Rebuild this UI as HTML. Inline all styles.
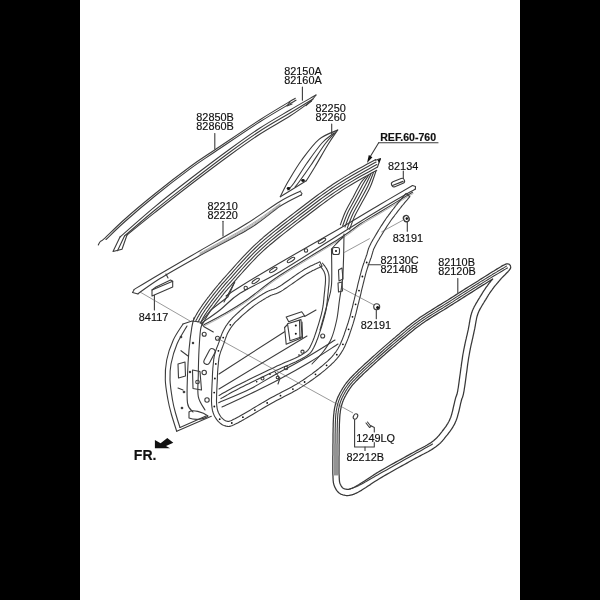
<!DOCTYPE html>
<html><head><meta charset="utf-8">
<style>
html,body{margin:0;padding:0;background:#000;}
body{width:600px;height:600px;overflow:hidden;position:relative;}
svg{position:absolute;left:0;top:0;will-change:transform;}
text{font-family:"Liberation Sans",sans-serif;font-size:10.5px;fill:#111;stroke:#111;stroke-width:0.15px;}
.b{font-weight:bold;}
.ln{fill:none;stroke:#3c3c3c;stroke-width:1.1;stroke-linejoin:round;stroke-linecap:round;}
.lw{fill:#fff;stroke:#3c3c3c;stroke-width:1.1;stroke-linejoin:round;stroke-linecap:round;}
.ld{fill:none;stroke:#555;stroke-width:0.6;}
.fk{fill:#111;stroke:none;}
</style></head>
<body>
<svg width="600" height="600" viewBox="0 0 600 600">
<rect x="0" y="0" width="600" height="600" fill="#000"/>
<rect x="80" y="0" width="440" height="600" fill="#fff"/>
<path class="ln" d="M302.4,87.0 L302.4,100.3" />
<path class="ln" d="M214.8,133.5 L214.8,149.0" />
<path class="ln" d="M331.7,124.0 L331.7,134.0" />
<path class="ln" d="M403.3,171.0 L403.3,180.0" />
<path class="ln" d="M223.0,221.3 L223.0,236.0" />
<path class="ln" d="M407.3,221.0 L407.3,231.3" />
<path class="ln" d="M457.8,278.5 L457.8,292.5" />
<path class="ln" d="M154.4,292.7 L154.4,310.0" />
<path class="ln" d="M376.3,310.0 L376.3,318.7" />
<path class="ln" d="M368.0,264.7 L380.7,264.7" />
<path class="ln" d="M378.7,142.8 L438.0,142.8" />
<path class="ln" d="M378.7,142.8 L370.0,157.0" />
<path class="fk" d="M367,163 L368.8,155 L372.4,157.2 Z"/>
<path class="ln" d="M354.6,419.5 L354.6,447.0 L374.3,447.0 L374.3,442.5" />
<path class="ln" d="M374.3,432.0 L374.3,427.5 L370.5,425.5" />
<path class="ln" d="M365.0,447.0 L365.0,450.5" />
<path class="fk" d="M154.9,440 L154.9,448.3 L170,448.3 L166,446 L173.3,442.7 L167.3,438 L160.6,443.3 Z"/>
<path class="ln" d="M506.6,263.9 L505.8,264.1 L504.8,264.6 L504.6,264.7 L503.2,265.4 L503.1,265.4 L501.3,266.4 L501.3,266.5 L499.2,267.7 L499.2,267.7 L496.8,269.1 L496.8,269.1 L494.3,270.7 L494.3,270.7 L491.6,272.3 L491.6,272.3 L488.9,274.0 L488.9,274.1 L486.2,275.8 L483.4,277.5 L480.8,279.1 L478.4,280.7 L476.0,282.2 L476.0,282.2 L473.5,283.7 L473.5,283.7 L471.1,285.2 L471.1,285.2 L468.6,286.8 L468.6,286.8 L466.1,288.4 L466.0,288.4 L463.5,290.0 L461.0,291.6 L458.4,293.3 L455.9,294.9 L453.4,296.5 L450.8,298.1 L448.3,299.7 L445.8,301.2 L443.3,302.8 L440.8,304.4 L438.2,305.9 L435.6,307.5 L435.6,307.5 L433.1,309.1 L433.1,309.1 L430.5,310.7 L430.5,310.7 L428.0,312.3 L428.0,312.3 L425.5,313.9 L425.4,313.9 L423.0,315.5 L423.0,315.5 L420.6,317.1 L420.5,317.1 L418.2,318.8 L418.2,318.8 L415.9,320.4 L415.9,320.4 L413.7,322.1 L413.7,322.1 L411.5,323.7 L411.5,323.8 L409.4,325.4 L409.4,325.4 L407.3,327.1 L407.3,327.1 L405.3,328.8 L405.3,328.8 L403.3,330.4 L403.2,330.5 L401.2,332.1 L401.2,332.1 L399.2,333.9 L399.2,333.9 L397.2,335.6 L395.1,337.4 L393.0,339.1 L393.0,339.1 L390.8,341.0 L390.8,341.0 L388.6,342.9 L388.6,342.9 L386.3,344.9 L386.3,344.9 L384.0,346.9 L384.0,346.9 L381.7,348.9 L381.7,348.9 L379.4,350.9 L379.4,350.9 L377.2,352.9 L377.2,352.9 L375.0,354.9 L375.0,354.9 L372.8,356.8 L372.8,356.8 L370.7,358.7 L370.7,358.7 L368.8,360.5 L368.8,360.5 L366.9,362.2 L366.9,362.2 L365.1,363.8 L365.1,363.8 L363.4,365.4 L363.4,365.4 L361.8,366.9 L361.8,366.9 L360.2,368.4 L360.2,368.4 L358.7,369.8 L358.7,369.8 L357.3,371.2 L357.3,371.2 L355.9,372.5 L355.9,372.6 L354.5,373.9 L354.5,373.9 L353.2,375.2 L353.2,375.2 L352.0,376.4 L352.0,376.5 L350.8,377.7 L350.8,377.7 L349.7,378.9 L349.7,379.0 L348.7,380.1 L348.6,380.2 L347.7,381.3 L347.6,381.3 L346.8,382.4 L346.7,382.4 L346.0,383.4 L345.9,383.5 L345.2,384.5 L345.1,384.5 L344.5,385.5 L344.4,385.6 L343.8,386.5 L343.8,386.6 L343.2,387.5 L343.1,387.5 L342.5,388.5 L342.5,388.5 L342.0,389.5 L341.9,389.5 L341.4,390.5 L341.4,390.5 L340.8,391.5 L340.8,391.5 L340.2,392.5 L340.2,392.5 L339.7,393.5 L339.7,393.5 L339.2,394.5 L339.2,394.6 L338.7,395.5 L338.7,395.6 L338.2,396.5 L338.2,396.6 L337.8,397.6 L337.7,397.6 L337.3,398.6 L337.3,398.7 L336.9,399.7 L336.9,399.7 L336.5,400.8 L336.5,400.8 L336.2,401.9 L336.1,401.9 L335.8,403.0 L335.8,403.1 L335.5,404.2 L335.5,404.2 L335.2,405.3 L335.2,405.4 L335.0,406.4 L334.9,406.5 L334.7,407.5 L334.7,407.6 L334.5,408.6 L334.5,408.7 L334.3,409.8 L334.3,409.8 L334.2,410.9 L334.1,411.0 L334.0,412.2 L334.0,412.2 L333.9,413.5 L333.9,413.5 L333.7,414.8 L333.7,414.9 L333.6,416.4 L333.6,416.4 L333.5,418.0 L333.5,418.0 L333.4,419.8 L333.4,419.9 L333.3,421.8 L333.3,421.9 L333.2,424.1 L333.2,424.1 L333.2,426.5 L333.2,426.5 L333.1,429.0 L333.1,429.0 L333.1,431.6 L333.1,431.6 L333.0,434.3 L333.0,434.3 L333.0,437.1 L333.0,437.1 L333.0,439.8 L333.0,439.8 L333.0,442.5 L332.9,445.1 L332.9,447.6 L332.9,450.0 L332.9,452.3 L332.9,454.6 L332.8,456.9 L332.8,459.2 L332.8,459.2 L332.8,461.5 L332.8,461.5 L332.8,463.7 L332.8,463.7 L332.8,465.9 L332.8,465.9 L332.8,467.9 L332.8,467.9 L332.8,469.9 L332.8,469.9 L332.8,471.8 L332.8,471.8 L332.8,473.5 L332.8,473.5 L332.9,475.1 L332.9,475.1 L333.0,476.5 L333.0,477.8 L333.0,477.8 L333.1,478.9 L333.1,478.9 L333.1,479.9 L333.1,480.0 L333.2,480.9 L333.2,480.9 L333.3,481.7 L333.3,481.9 L333.4,482.6 L333.4,482.7 L333.6,483.4 L333.6,483.6 L333.8,484.2 L333.8,484.4 L334.0,485.1 L334.1,485.2 L334.3,485.9 L334.4,486.0 L334.6,486.7 L334.7,486.8 L335.0,487.5 L335.1,487.6 L335.4,488.3 L335.5,488.4 L335.9,489.1 L335.9,489.2 L336.3,489.9 L336.4,490.0 L336.9,490.6 L337.0,490.8 L337.5,491.4 L337.6,491.5 L338.1,492.1 L338.3,492.2 L338.8,492.7 L339.1,492.9 L339.6,493.3 L339.9,493.5 L340.5,493.9 L340.8,494.1 L341.5,494.4 L341.8,494.5 L342.5,494.7 L342.7,494.8 L343.4,495.0 L343.5,495.0 L344.2,495.2 L344.4,495.2 L345.1,495.3 L345.3,495.4 L346.0,495.5 L346.3,495.5 L347.1,495.5 L347.3,495.5 L348.1,495.5 L348.4,495.5 L349.3,495.4 L349.5,495.4 L350.5,495.2 L350.7,495.1 L351.8,494.8 L352.0,494.8 L353.2,494.4 L353.4,494.3 L354.7,493.8 L354.8,493.8 L356.3,493.1 L356.4,493.1 L358.0,492.3 L358.1,492.2 L359.8,491.2 L359.9,491.2 L361.8,490.1 L361.8,490.0 L363.8,488.8 L363.8,488.8 L365.9,487.5 L365.9,487.5 L368.0,486.1 L368.1,486.0 L370.3,484.6 L372.5,483.1 L374.8,481.6 L377.0,480.2 L379.3,478.7 L381.6,477.4 L383.9,476.0 L386.3,474.6 L388.8,473.2 L391.4,471.7 L394.0,470.2 L396.6,468.8 L399.3,467.3 L401.8,465.9 L404.4,464.5 L406.9,463.1 L409.2,461.8 L409.2,461.8 L411.5,460.5 L413.7,459.3 L415.8,458.1 L418.0,457.0 L420.1,455.9 L422.1,454.8 L422.1,454.8 L424.1,453.8 L424.1,453.8 L426.1,452.7 L426.1,452.7 L428.0,451.7 L428.0,451.7 L429.8,450.7 L429.8,450.6 L431.5,449.7 L431.6,449.6 L433.2,448.6 L433.3,448.6 L434.7,447.6 L434.8,447.5 L436.2,446.5 L436.2,446.5 L437.4,445.6 L437.5,445.5 L438.6,444.6 L438.7,444.5 L439.7,443.6 L439.8,443.5 L440.7,442.7 L440.8,442.6 L441.6,441.7 L441.7,441.7 L442.5,440.8 L442.5,440.7 L443.3,439.8 L443.3,439.8 L444.1,438.9 L444.1,438.9 L444.8,437.9 L444.8,437.9 L445.6,436.9 L446.4,435.9 L447.3,434.9 L447.3,434.9 L448.1,433.8 L448.1,433.8 L448.9,432.7 L449.0,432.7 L449.8,431.6 L449.8,431.6 L450.6,430.5 L450.6,430.4 L451.4,429.3 L451.4,429.3 L452.2,428.1 L452.3,428.0 L453.0,426.9 L453.0,426.8 L453.7,425.5 L453.8,425.4 L454.5,424.2 L454.5,424.1 L455.2,422.7 L455.2,422.6 L455.8,421.3 L455.9,421.1 L456.5,419.6 L456.5,419.5 L457.1,417.9 L457.1,417.8 L457.6,416.1 L457.6,416.0 L458.1,414.2 L458.1,414.2 L458.6,412.4 L458.6,412.3 L459.1,410.5 L459.1,410.4 L459.5,408.6 L459.5,408.6 L459.9,406.8 L459.9,406.8 L460.3,405.1 L460.6,403.5 L461.0,402.1 L461.3,400.8 L461.6,399.8 L461.8,399.0 L462.0,398.4 L462.2,398.0 L462.4,397.5 L462.4,397.5 L462.6,397.1 L462.6,397.0 L462.8,396.4 L462.8,396.3 L463.0,395.7 L463.0,395.6 L463.2,394.8 L463.3,394.7 L463.5,393.7 L463.5,393.6 L463.7,392.3 L463.8,392.2 L464.1,390.5 L464.1,390.5 L464.4,388.4 L464.4,388.4 L464.8,386.0 L464.8,385.9 L465.2,383.2 L465.2,383.2 L465.6,380.2 L465.6,380.2 L466.0,377.1 L466.4,373.8 L466.9,370.6 L467.3,367.3 L467.7,364.1 L468.2,361.0 L468.6,358.1 L469.1,355.5 L469.5,353.1 L469.9,350.8 L470.4,348.5 L470.8,346.3 L471.3,344.1 L471.8,342.1 L472.2,340.1 L472.7,338.1 L473.1,336.2 L473.1,336.2 L473.5,334.3 L473.5,334.3 L473.9,332.5 L473.9,332.4 L474.3,330.7 L474.3,330.6 L474.7,328.9 L474.7,328.9 L475.0,327.2 L475.0,327.2 L475.3,325.6 L475.3,325.6 L475.5,324.1 L475.5,324.1 L475.8,322.6 L476.0,321.3 L476.3,319.9 L476.5,318.6 L476.8,317.4 L477.1,316.2 L477.5,315.0 L477.9,313.8 L478.4,312.6 L478.9,311.3 L479.5,310.1 L480.1,308.9 L480.8,307.7 L481.5,306.5 L482.2,305.3 L482.9,304.1 L483.6,303.0 L484.3,301.8 L484.3,301.8 L485.0,300.7 L485.0,300.7 L485.7,299.6 L485.7,299.6 L486.3,298.6 L486.9,297.6 L487.4,296.7 L488.0,295.8 L488.5,294.9 L489.1,294.0 L489.6,293.2 L490.2,292.4 L490.7,291.6 L491.3,290.8 L491.9,290.0 L492.5,289.1 L493.1,288.3 L493.7,287.5 L494.3,286.7 L495.0,285.9 L495.6,285.2 L496.3,284.4 L496.9,283.6 L497.6,282.8 L498.3,282.0 L499.0,281.2 L499.0,281.2 L499.7,280.3 L499.7,280.3 L500.3,279.5 L501.1,278.7 L502.1,277.6 L503.2,276.5 L504.5,275.3 L505.7,274.0 L505.7,274.0 L506.9,272.8 L506.9,272.8 L508.0,271.7 L508.0,271.6 L508.9,270.6 L509.0,270.5 L509.7,269.7 L509.9,269.3 L510.3,268.7 L510.6,268.0 L510.7,267.3 L510.6,266.5 L510.5,266.2 L510.3,265.5 L509.8,264.9 L509.3,264.4 L508.6,264.0 L507.9,263.9 L507.1,263.9 L506.6,263.9 Z" style="stroke-width:1.25;stroke:#383838"/>
<path class="ln" d="M492.7,279.0 L492.2,279.6 L492.2,279.6 L491.5,280.4 L491.5,280.4 L490.8,281.2 L490.8,281.2 L490.2,282.0 L490.1,282.1 L489.5,282.9 L489.5,282.9 L488.8,283.7 L488.8,283.7 L488.2,284.6 L488.1,284.6 L487.5,285.5 L487.5,285.5 L486.9,286.3 L486.9,286.3 L486.3,287.2 L486.2,287.2 L485.7,288.0 L485.6,288.1 L485.1,288.9 L485.1,288.9 L484.5,289.8 L484.5,289.8 L483.9,290.6 L483.9,290.7 L483.3,291.5 L483.3,291.5 L482.8,292.4 L482.7,292.5 L482.2,293.4 L482.2,293.4 L481.6,294.4 L481.6,294.4 L481.0,295.4 L481.0,295.4 L480.3,296.4 L479.7,297.5 L479.0,298.6 L478.3,299.7 L478.3,299.7 L477.6,300.9 L477.6,300.9 L476.9,302.1 L476.9,302.1 L476.1,303.4 L476.1,303.4 L475.4,304.7 L475.4,304.7 L474.7,306.0 L474.6,306.0 L474.0,307.3 L473.9,307.4 L473.3,308.7 L473.3,308.8 L472.7,310.1 L472.6,310.2 L472.1,311.6 L472.1,311.7 L471.6,313.0 L471.6,313.1 L471.2,314.5 L471.2,314.6 L470.8,315.9 L470.8,316.0 L470.5,317.3 L470.5,317.4 L470.2,318.7 L470.2,318.8 L469.9,320.1 L469.9,320.2 L469.7,321.6 L469.7,321.6 L469.4,323.0 L469.2,324.5 L468.9,326.1 L468.6,327.7 L468.3,329.4 L467.9,331.1 L467.5,332.9 L467.1,334.8 L466.6,336.7 L466.2,338.7 L466.2,338.7 L465.7,340.7 L465.7,340.7 L465.2,342.8 L465.2,342.8 L464.8,345.0 L464.8,345.0 L464.3,347.2 L464.3,347.3 L463.8,349.6 L463.8,349.6 L463.4,352.0 L463.4,352.0 L462.9,354.5 L462.9,354.5 L462.5,357.1 L462.5,357.2 L462.1,360.1 L462.1,360.1 L461.6,363.2 L461.6,363.2 L461.2,366.4 L461.2,366.4 L460.7,369.7 L460.7,369.7 L460.3,373.0 L459.8,376.3 L459.4,379.4 L459.0,382.3 L458.6,385.1 L458.3,387.5 L457.9,389.5 L457.7,391.1 L457.4,392.4 L457.2,393.3 L457.0,394.0 L456.9,394.5 L456.8,394.9 L456.6,395.3 L456.4,395.7 L456.4,395.7 L456.2,396.3 L456.2,396.4 L455.9,397.0 L455.9,397.1 L455.6,398.0 L455.6,398.1 L455.3,399.2 L455.3,399.2 L455.0,400.6 L454.9,400.6 L454.6,402.1 L454.6,402.1 L454.2,403.8 L454.2,403.8 L453.8,405.5 L453.4,407.2 L453.0,409.0 L452.6,410.8 L452.1,412.6 L451.7,414.3 L451.2,415.9 L450.7,417.5 L450.1,418.8 L449.6,420.1 L449.0,421.3 L448.3,422.5 L447.7,423.6 L447.0,424.7 L446.3,425.8 L445.6,426.9 L444.8,427.9 L444.0,429.0 L443.2,430.0 L442.4,431.0 L441.6,432.1 L441.6,432.1 L440.8,433.1 L440.8,433.1 L440.0,434.1 L439.3,435.0 L438.6,435.8 L437.8,436.7 L437.1,437.5 L436.3,438.2 L435.5,439.0 L434.6,439.8 L433.6,440.7 L432.5,441.5 L431.2,442.5 L429.8,443.4 L428.3,444.3 L426.7,445.3 L425.0,446.3 L423.1,447.3 L421.2,448.3 L419.2,449.3 L417.2,450.4 L417.2,450.4 L415.1,451.5 L415.1,451.5 L412.9,452.7 L412.9,452.7 L410.7,453.9 L410.7,453.9 L408.5,455.1 L408.5,455.1 L406.2,456.4 L403.8,457.7 L401.4,459.1 L398.8,460.5 L396.2,461.9 L396.2,461.9 L393.6,463.4 L393.6,463.4 L391.0,464.8 L391.0,464.8 L388.4,466.3 L388.4,466.3 L385.8,467.8 L385.8,467.8 L383.3,469.2 L383.2,469.2 L380.8,470.6 L380.8,470.6 L378.4,472.0 L378.4,472.0 L376.1,473.4 L376.1,473.5 L373.7,474.9 L373.7,474.9 L371.4,476.4 L371.4,476.4 L369.1,477.9 L369.1,477.9 L366.8,479.4 L364.6,480.9 L362.5,482.3 L360.5,483.6 L358.6,484.8 L356.8,485.8 L355.1,486.8 L353.7,487.5 L352.4,488.1 L351.2,488.5 L350.2,488.9 L349.3,489.1 L348.5,489.3 L347.9,489.3 L347.3,489.3 L346.7,489.3 L346.2,489.2 L345.6,489.1 L345.0,489.0 L344.4,488.8 L344.0,488.7 L343.6,488.5 L343.3,488.3 L342.9,488.0 L342.6,487.7 L342.2,487.4 L341.9,486.9 L341.5,486.5 L341.2,486.0 L340.9,485.4 L340.6,484.8 L340.3,484.2 L340.1,483.7 L339.9,483.2 L339.8,482.7 L339.6,482.2 L339.5,481.6 L339.5,481.0 L339.4,480.3 L339.3,479.5 L339.3,478.6 L339.2,477.5 L339.2,476.3 L339.1,474.9 L339.0,473.4 L339.0,471.7 L339.0,469.9 L339.0,467.9 L339.0,465.9 L339.0,463.7 L339.0,461.5 L339.0,459.3 L339.0,457.0 L339.1,454.7 L339.1,452.3 L339.1,450.0 L339.1,450.0 L339.1,447.7 L339.1,447.6 L339.1,445.1 L339.2,442.5 L339.2,439.8 L339.2,437.1 L339.2,434.4 L339.3,431.7 L339.3,429.1 L339.4,426.6 L339.4,424.3 L339.5,422.1 L339.6,420.2 L339.7,418.4 L339.8,416.8 L339.9,415.4 L340.0,414.1 L340.2,412.9 L340.3,411.8 L340.4,410.8 L340.6,409.8 L340.8,408.8 L341.0,407.8 L341.2,406.8 L341.5,405.8 L341.8,404.7 L342.1,403.7 L342.4,402.8 L342.7,401.8 L343.1,400.9 L343.4,400.0 L343.8,399.1 L344.3,398.2 L344.7,397.3 L345.2,396.4 L345.7,395.5 L346.2,394.5 L346.7,393.6 L347.3,392.6 L347.8,391.7 L348.4,390.8 L349.0,389.9 L349.6,389.0 L350.2,388.1 L350.9,387.2 L351.6,386.2 L352.4,385.2 L353.3,384.2 L354.3,383.1 L355.4,381.9 L356.5,380.7 L357.7,379.5 L358.9,378.3 L360.2,377.0 L361.6,375.7 L363.0,374.3 L364.5,372.9 L366.0,371.5 L367.7,370.0 L369.3,368.4 L371.1,366.8 L372.9,365.1 L374.9,363.3 L377.0,361.4 L379.1,359.5 L381.3,357.5 L383.6,355.6 L385.8,353.5 L388.1,351.5 L390.4,349.5 L392.6,347.6 L394.9,345.7 L397.0,343.9 L399.1,342.1 L399.1,342.1 L401.2,340.3 L403.2,338.6 L405.2,336.9 L407.2,335.2 L409.2,333.5 L411.2,331.9 L413.3,330.3 L415.3,328.6 L417.4,327.0 L419.6,325.4 L421.8,323.8 L424.1,322.2 L426.4,320.6 L428.8,319.1 L431.3,317.5 L433.8,315.9 L436.3,314.4 L438.9,312.8 L441.4,311.2 L444.0,309.7 L444.0,309.7 L446.6,308.1 L446.6,308.1 L449.1,306.5 L449.1,306.5 L451.6,304.9 L451.7,304.9 L454.2,303.3 L454.2,303.3 L456.7,301.7 L459.2,300.1 L461.8,298.5 L464.3,296.9 L466.9,295.2 L469.4,293.6 L471.9,292.1 L474.4,290.5 L476.8,288.9 L479.2,287.4 L481.6,285.9 L484.1,284.4 L484.1,284.4 L486.7,282.7 L486.7,282.7 L489.5,281.0 L492.2,279.3 L492.7,279.0 Z" style="stroke-width:1.25;stroke:#383838"/>
<path class="ln" d="M506.5,266.1 L505.2,266.9 L503.6,267.9 L501.7,269.0 L499.6,270.3 L497.3,271.6 L494.9,273.1 L494.9,273.1 L492.3,274.6 L492.3,274.6 L489.7,276.2 L489.7,276.2 L487.1,277.8 L487.1,277.8 L484.5,279.4 L484.5,279.4 L481.9,280.9 L481.9,280.9 L479.5,282.4 L479.5,282.5 L477.1,283.9 L477.1,283.9 L474.6,285.5 L474.6,285.5 L472.2,287.0 L472.2,287.0 L469.7,288.6 L469.7,288.6 L467.2,290.2 L467.2,290.2 L464.7,291.8 L462.1,293.4 L459.6,295.0 L457.0,296.6 L454.5,298.3 L452.0,299.9 L449.5,301.5 L447.0,303.0 L444.4,304.6 L441.9,306.2 L439.3,307.7 L436.7,309.3 L436.7,309.3 L434.2,310.9 L434.2,310.9 L431.6,312.4 L431.6,312.5 L429.1,314.0 L429.1,314.0 L426.6,315.6 L426.6,315.6 L424.2,317.2 L424.2,317.2 L421.8,318.8 L421.8,318.9 L419.4,320.5 L419.4,320.5 L417.2,322.1 L417.1,322.1 L415.0,323.8 L414.9,323.8 L412.8,325.4 L412.8,325.4 L410.7,327.1 L410.7,327.1 L408.7,328.7 L408.6,328.7 L406.6,330.4 L406.6,330.4 L404.6,332.1 L404.6,332.1 L402.6,333.7 L402.6,333.8 L400.6,335.5 L400.6,335.5 L398.5,337.2 L396.5,339.0 L394.4,340.7 L394.4,340.7 L392.2,342.6 L392.2,342.6 L390.0,344.5 L390.0,344.5 L387.7,346.4 L387.7,346.5 L385.4,348.4 L385.4,348.4 L383.1,350.5 L383.1,350.5 L380.8,352.5 L380.8,352.5 L378.6,354.5 L378.6,354.5 L376.4,356.5 L376.4,356.5 L374.2,358.4 L374.2,358.4 L372.2,360.3 L372.2,360.3 L370.2,362.1 L370.2,362.1 L368.3,363.8 L368.3,363.8 L366.6,365.4 L366.6,365.4 L364.9,366.9 L364.9,366.9 L363.2,368.5 L363.2,368.5 L361.7,369.9 L361.7,369.9 L360.2,371.3 L360.2,371.3 L358.7,372.7 L358.7,372.7 L357.3,374.1 L357.3,374.1 L356.0,375.4 L356.0,375.4 L354.7,376.6 L354.7,376.6 L353.5,377.9 L353.5,377.9 L352.4,379.1 L352.4,379.1 L351.3,380.3 L351.2,380.3 L350.2,381.5 L350.2,381.5 L349.3,382.6 L349.3,382.6 L348.4,383.7 L348.4,383.7 L347.6,384.7 L347.6,384.7 L346.9,385.7 L346.9,385.7 L346.2,386.7 L346.2,386.7 L345.5,387.7 L345.5,387.7 L344.9,388.6 L344.9,388.6 L344.3,389.6 L344.3,389.6 L343.8,390.5 L343.8,390.6 L343.2,391.5 L343.2,391.5 L342.6,392.5 L342.6,392.5 L342.1,393.5 L342.1,393.5 L341.5,394.5 L341.5,394.5 L341.0,395.5 L341.0,395.5 L340.6,396.4 L340.6,396.5 L340.1,397.4 L340.1,397.4 L339.7,398.4 L339.7,398.4 L339.3,399.4 L339.3,399.4 L338.9,400.4 L338.9,400.4 L338.5,401.5 L338.5,401.5 L338.2,402.5 L338.2,402.5 L337.8,403.6 L337.8,403.6 L337.5,404.7 L337.5,404.8 L337.3,405.9 L337.2,405.9 L337.0,406.9 L337.0,406.9 L336.8,408.0 L336.8,408.0 L336.6,409.0 L336.6,409.1 L336.4,410.1 L336.4,410.1 L336.2,411.2 L336.2,411.3 L336.1,412.4 L336.1,412.4 L335.9,413.7 L335.9,413.7 L335.8,415.0 L335.8,415.0 L335.7,416.5 L335.7,416.5 L335.6,418.1 L335.6,418.2 L335.5,419.9 L335.5,420.0 L335.4,421.9 L335.4,422.0 L335.3,424.2 L335.3,424.2 L335.3,426.5 L335.3,426.5 L335.2,429.1 L335.2,429.1 L335.2,431.7 L335.2,431.7 L335.1,434.4 L335.1,434.4 L335.1,437.1 L335.1,437.1 L335.1,439.8 L335.1,439.8 L335.1,442.5 L335.0,445.1 L335.0,447.6 L335.0,450.0 L335.0,452.3 L335.0,452.3 L335.0,454.7 L335.0,454.7 L335.0,457.2 L335.0,457.2 L335.0,459.6 L335.0,459.6 L335.0,462.0 L335.0,462.0 L335.0,464.4 L335.0,466.6 L335.0,468.7 L335.0,470.6 L335.0,472.3 L335.0,473.8 L335.0,475.0" />
<path class="ln" d="M507.5,267.9 L506.2,268.6 L506.2,268.6 L504.6,269.6 L502.7,270.7 L500.6,272.0 L498.3,273.4 L495.9,274.8 L493.3,276.3 L490.7,277.9 L488.1,279.5 L485.5,281.1 L483.0,282.6 L480.5,284.2 L478.1,285.6 L475.7,287.2 L473.2,288.7 L470.8,290.3 L468.2,291.9 L465.7,293.5 L463.2,295.1 L460.6,296.7 L458.1,298.3 L455.6,299.9 L453.0,301.6 L453.0,301.6 L450.5,303.1 L450.5,303.1 L448.0,304.7 L448.0,304.7 L445.5,306.3 L445.5,306.3 L442.9,307.9 L442.9,307.9 L440.3,309.4 L437.8,311.0 L435.2,312.6 L432.7,314.1 L430.2,315.7 L427.7,317.3 L425.3,318.9 L422.9,320.5 L420.6,322.1 L418.3,323.7 L416.2,325.4 L414.0,327.0 L412.0,328.6 L409.9,330.3 L407.9,331.9 L405.9,333.6 L403.9,335.3 L401.9,337.0 L399.8,338.7 L397.8,340.5 L397.7,340.5 L395.6,342.3 L393.5,344.1 L391.3,346.0 L389.0,348.0 L386.7,350.0 L384.4,352.0 L382.2,354.0 L379.9,356.0 L377.7,358.0 L375.6,359.9 L373.5,361.8 L371.5,363.5 L369.7,365.2 L367.9,366.9 L366.2,368.4 L364.6,369.9 L363.0,371.4 L361.5,372.8 L360.1,374.2 L358.7,375.5 L357.4,376.8 L356.2,378.0 L355.0,379.3 L353.8,380.5 L352.7,381.7 L351.7,382.8 L350.8,383.9 L350.0,384.9 L349.2,385.9 L348.5,386.9 L347.8,387.8 L347.2,388.8 L346.6,389.7 L346.0,390.6 L345.5,391.6 L344.9,392.5 L344.4,393.5 L343.8,394.5 L343.3,395.4 L342.8,396.4 L342.4,397.3 L341.9,398.3 L341.5,399.2 L341.1,400.2 L340.8,401.1 L340.4,402.1 L340.1,403.1 L339.8,404.2 L339.5,405.3 L339.2,406.3 L339.0,407.4 L338.7,408.4 L338.5,409.4 L338.4,410.4 L338.2,411.5 L338.1,412.6 L337.9,413.9 L337.8,415.2 L337.7,416.7 L337.6,418.3 L337.5,420.1 L337.4,422.0 L337.3,424.2 L337.3,426.6 L337.2,429.1 L337.2,431.7 L337.1,434.4 L337.1,437.1 L337.1,439.8 L337.1,442.5 L337.0,445.1 L337.0,447.6 L337.0,447.6 L337.0,450.0 L337.0,452.3 L337.0,454.7 L337.0,457.2 L337.0,459.6 L337.0,462.0 L337.0,464.4 L337.0,466.6 L337.0,468.7 L337.0,470.6 L337.0,472.3 L337.0,473.8 L337.0,473.8 L337.0,475.0" />
<path class="ln" d="M432.5,444.1 L431.4,444.7 L430.1,445.5 L428.5,446.3 L426.8,447.3 L424.9,448.3 L422.9,449.5 L420.8,450.7 L418.6,451.9 L416.3,453.1 L414.0,454.4 L411.7,455.7 L409.5,456.9 L407.2,458.2 L404.8,459.6 L402.3,461.0 L399.7,462.5 L397.0,464.0 L394.3,465.5 L391.7,467.0 L389.0,468.5 L386.5,469.9 L384.0,471.3 L381.7,472.6 L379.5,473.8 L379.5,473.8 L377.5,475.0 L377.5,475.0 L375.5,476.1 L375.5,476.1 L373.6,477.2 L373.6,477.2 L371.7,478.3 L370.0,479.3 L368.3,480.3 L366.6,481.2 L365.1,482.1 L363.6,482.9 L362.2,483.7 L360.8,484.4 L359.5,485.1 L358.4,485.7 L357.2,486.2 L356.2,486.7 L355.2,487.1 L354.3,487.5 L353.4,487.8 L352.6,488.0 L351.9,488.3 L351.2,488.5 L351.2,488.5 L350.7,488.7 L350.6,488.7 L350.1,488.9 L350.1,488.9 L349.6,489.1" />
<path class="ln" d="M295.3,98.3 C289.4,101.9 273.4,111.1 260.0,119.7 C246.6,128.3 226.7,141.9 215.0,149.7 C203.3,157.5 200.0,159.4 190.0,166.7 C180.0,174.0 165.8,185.0 155.0,193.8 C144.2,202.5 133.4,211.5 125.0,219.0 C116.5,226.5 108.4,234.9 104.3,238.7 C100.2,242.4 101.3,240.4 100.3,241.5 C99.3,242.6 98.6,244.4 98.3,245.0" />
<path class="ln" d="M296.0,100.2 C290.0,103.8 273.5,113.2 260.0,121.8 C246.5,130.4 226.7,144.0 215.0,151.8 C203.3,159.7 200.0,161.5 190.0,168.9 C180.0,176.3 165.8,187.2 155.0,196.0 C144.2,204.8 133.2,214.2 125.0,221.5 C116.8,228.8 109.2,236.5 106.0,239.5" />
<path class="ln" d="M290.0,102.0 L287.0,106.0 L292.0,104.0" />
<path class="ln" d="M316.0,95.0 C311.7,97.5 299.3,104.5 290.0,110.0 C280.7,115.5 270.0,121.5 260.0,128.0 C250.0,134.5 241.7,140.5 230.0,149.0 C218.3,157.5 202.5,169.4 190.0,179.0 C177.5,188.6 166.7,196.9 155.0,206.6 C143.3,216.3 125.8,231.9 120.0,237.0" />
<path class="ln" d="M313.0,99.0 C309.2,101.3 298.8,107.7 290.0,113.0 C281.2,118.3 270.0,124.5 260.0,131.0 C250.0,137.5 241.7,143.4 230.0,152.0 C218.3,160.6 202.5,172.8 190.0,182.5 C177.5,192.2 165.9,201.1 155.0,210.0 C144.1,218.9 129.6,231.7 124.5,236.0" />
<path class="ln" d="M311.3,101.0 C307.8,103.5 298.6,110.5 290.0,116.0 C281.4,121.5 270.0,127.5 260.0,134.0 C250.0,140.5 241.7,146.5 230.0,155.0 C218.3,163.5 202.5,175.4 190.0,185.0 C177.5,194.6 165.5,204.1 155.0,212.4 C144.5,220.7 131.7,231.2 127.0,235.0" />
<path class="ln" d="M120.0,237.0 L113.0,251.5 L122.0,249.3 L127.0,235.0" />
<path class="ln" d="M124.5,236.0 L117.5,250.7" />
<path class="ln" d="M316.0,95.0 L311.3,101.0" />
<path class="ln" d="M306.0,105.7 L311.3,101.0" />
<path class="ln" d="M337.7,130.0 C334.6,131.6 325.0,134.3 319.0,139.3 C313.0,144.3 306.8,153.0 301.7,160.0 C296.6,167.0 291.9,175.2 288.3,181.3 C284.7,187.4 281.6,194.1 280.3,196.7" />
<path class="ln" d="M337.7,130.0 C336.1,132.3 332.1,137.9 328.3,144.0 C324.5,150.1 318.7,160.6 315.0,166.7 C311.3,172.8 307.8,178.4 306.3,180.7" />
<path class="ln" d="M280.3,196.7 L306.3,180.7" />
<path class="ln" d="M334.0,133.0 C332.0,134.7 326.5,138.0 322.0,143.0 C317.5,148.0 311.7,156.3 307.0,163.0 C302.3,169.7 297.2,178.5 294.0,183.0 C290.8,187.5 289.0,188.8 288.0,190.0" />
<path class="ln" d="M335.5,132.0 C333.8,134.0 329.1,138.5 325.0,144.0 C320.9,149.5 315.3,158.7 311.0,165.0 C306.7,171.3 301.7,178.3 299.0,182.0 C296.3,185.7 295.7,186.2 295.0,187.0" />
<ellipse class="fk" cx="288.5" cy="188.5" rx="1.8" ry="1.4"/>
<ellipse class="fk" cx="303" cy="180.5" rx="1.8" ry="1.4"/>
<path class="ln" d="M300.7,191.0 C297.2,192.8 289.1,196.0 280.0,201.5 C270.9,207.0 259.3,215.8 246.0,224.0 C232.7,232.2 214.3,242.4 200.0,250.7 C185.7,259.0 171.0,267.4 160.0,273.9 C149.0,280.4 138.3,286.9 134.0,289.5" />
<path class="ln" d="M301.0,195.0 C297.5,196.9 288.5,200.8 280.0,206.3 C271.5,211.9 263.3,220.1 250.0,228.3 C236.7,236.5 215.0,247.1 200.0,255.5 C185.0,263.9 170.3,272.1 160.0,278.5 C149.7,284.9 141.7,291.2 138.0,293.7" />
<path class="ln" d="M134.0,290.0 L132.5,292.5 L138.0,294.0" />
<path class="ln" d="M166.0,274.0 L168.0,278.0" />
<path class="ln" d="M300.7,192.0 L302.0,193.5 L301.0,195.5" />
<path class="ln" d="M280.0,203.9 C274.7,207.6 261.3,218.0 248.0,226.2 C234.7,234.3 208.0,248.6 200.0,253.1" style="stroke:#8a8a8a;stroke-width:0.7"/>
<path class="ln" d="M280.0,204.8 C274.8,208.5 262.1,218.7 248.7,226.9 C235.4,235.1 208.1,249.5 200.0,254.0" style="stroke:#8a8a8a;stroke-width:0.7"/>
<path class="ln" d="M280.0,205.6 C274.9,209.3 262.7,219.5 249.4,227.7 C236.1,235.9 208.2,250.3 200.0,254.8" style="stroke:#8a8a8a;stroke-width:0.7"/>
<path class="lw" d="M152.0,290.0 L152.0,296.0 L172.7,287.0 L172.7,281.3 L152.0,290.0" />
<path class="ln" d="M152.0,290.0 L156.0,287.0 L170.5,280.0 L172.7,281.3" />
<rect class="lw" x="-6.8" y="-2.6" width="13.6" height="5.2" rx="2.4" transform="translate(398 182.6) rotate(-22)"/>
<path class="ln" d="M392.5,185.5 L403.0,181.3" style="stroke-width:1.3"/>
<ellipse class="lw" cx="406.3" cy="218.6" rx="2.8" ry="3.2" transform="rotate(-20 406.3 218.6)" style="stroke-width:1.4"/>
<ellipse class="fk" cx="406.8" cy="218.6" rx="1.2" ry="1.4"/>
<circle class="lw" cx="376.7" cy="306.7" r="3"/>
<circle class="fk" cx="377.6" cy="307.5" r="1.5"/>
<ellipse class="lw" cx="355.5" cy="416.5" rx="2" ry="2.8" transform="rotate(30 355.5 416.5)"/>
<path class="lw" d="M366.0,423.0 L369.5,427.5 L371.0,426.5 L367.5,422.0" />
<path class="ln" d="M193.7,319.5 L193.9,319.1 L194.2,318.5 L194.6,317.9 L195.0,317.1 L195.0,317.1 L195.4,316.3 L195.4,316.3 L195.9,315.4 L196.0,315.3 L196.5,314.4 L196.5,314.4 L197.1,313.4 L197.1,313.3 L197.7,312.3 L197.7,312.2 L198.4,311.2 L198.4,311.1 L199.1,310.1 L199.1,310.0 L199.8,309.0 L199.9,308.9 L200.6,307.8 L200.6,307.8 L201.4,306.7 L201.4,306.6 L202.2,305.5 L202.2,305.4 L203.1,304.2 L203.1,304.2 L204.0,303.0 L204.0,302.9 L205.0,301.7 L205.0,301.6 L205.9,300.3 L205.9,300.3 L206.9,299.0 L206.9,299.0 L207.9,297.7 L207.9,297.6 L209.0,296.3 L209.0,296.3 L210.0,295.0 L210.0,294.9 L211.1,293.6 L211.1,293.6 L212.1,292.3 L213.0,291.1 L213.0,291.1 L214.0,289.9 L214.0,289.9 L214.9,288.8 L214.9,288.7 L215.9,287.6 L215.9,287.5 L216.9,286.3 L216.9,286.3 L218.0,285.0 L218.0,285.0 L219.1,283.6 L219.2,283.6 L220.4,282.1 L220.5,282.1 L221.9,280.5 L221.9,280.4 L223.5,278.6 L223.5,278.6 L225.3,276.7 L227.2,274.5 L229.3,272.1 L231.6,269.6 L231.6,269.6 L234.0,266.9 L234.0,266.8 L236.5,264.0 L236.5,264.0 L239.2,261.1 L239.2,261.1 L241.9,258.1 L241.9,258.1 L244.7,255.1 L244.8,255.1 L247.6,252.1 L247.7,252.1 L250.6,249.1 L250.6,249.1 L253.6,246.2 L253.6,246.1 L256.6,243.4 L256.7,243.3 L259.7,240.6 L259.7,240.5 L262.9,237.8 L262.9,237.7 L266.1,235.0 L266.2,235.0 L269.5,232.2 L269.5,232.2 L272.9,229.5 L272.9,229.5 L276.3,226.7 L276.4,226.7 L279.8,224.0 L279.8,224.0 L283.3,221.3 L283.3,221.3 L286.7,218.7 L286.7,218.6 L290.2,216.0 L290.2,216.0 L293.6,213.4 L297.0,210.8 L300.3,208.3 L303.6,205.8 L303.6,205.8 L306.8,203.3 L306.9,203.2 L310.1,200.8 L310.1,200.8 L313.4,198.3 L313.4,198.3 L316.7,195.8 L316.7,195.8 L320.0,193.4 L320.1,193.4 L323.4,191.0 L323.4,191.0 L326.8,188.6 L326.8,188.5 L330.2,186.2 L330.3,186.2 L333.7,183.8 L333.8,183.8 L337.3,181.5 L337.3,181.5 L341.1,179.1 L341.1,179.1 L345.1,176.6 L345.2,176.6 L349.4,174.1 L349.5,174.1 L353.8,171.6 L353.8,171.6 L358.2,169.1 L358.2,169.1 L362.6,166.7 L362.6,166.7 L366.8,164.3 L366.8,164.3 L370.7,162.2 L370.7,162.2 L374.4,160.2 L375.5,159.5" />
<path class="ln" d="M195.8,320.8 L196.1,320.3 L196.4,319.7 L196.8,319.1 L197.2,318.3 L197.2,318.3 L197.6,317.5 L197.6,317.5 L198.1,316.6 L198.1,316.6 L198.7,315.6 L198.7,315.6 L199.2,314.6 L199.3,314.6 L199.9,313.6 L199.9,313.5 L200.5,312.5 L200.5,312.5 L201.2,311.4 L201.2,311.4 L201.9,310.3 L201.9,310.3 L202.7,309.2 L202.7,309.2 L203.5,308.1 L203.5,308.1 L204.3,306.9 L204.3,306.9 L205.1,305.7 L205.2,305.7 L206.0,304.4 L206.1,304.4 L207.0,303.1 L207.0,303.1 L207.9,301.8 L207.9,301.8 L208.9,300.5 L208.9,300.5 L209.9,299.2 L209.9,299.2 L210.9,297.8 L211.0,297.8 L212.0,296.5 L212.0,296.5 L213.0,295.2 L213.0,295.2 L214.0,293.9 L215.0,292.7 L215.0,292.7 L215.9,291.5 L215.9,291.5 L216.9,290.3 L216.9,290.3 L217.8,289.1 L217.8,289.1 L218.8,287.9 L218.8,287.9 L219.9,286.6 L219.9,286.6 L221.1,285.2 L221.1,285.2 L222.3,283.7 L222.4,283.7 L223.8,282.1 L223.8,282.1 L225.4,280.3 L225.4,280.3 L227.1,278.3 L229.1,276.2 L231.2,273.8 L233.5,271.2 L233.5,271.2 L235.9,268.5 L235.9,268.5 L238.4,265.7 L238.4,265.7 L241.0,262.8 L241.0,262.8 L243.7,259.8 L243.8,259.8 L246.5,256.8 L246.6,256.8 L249.4,253.8 L249.4,253.8 L252.3,250.9 L252.4,250.9 L255.3,248.0 L255.3,248.0 L258.3,245.2 L258.3,245.1 L261.3,242.4 L261.4,242.4 L264.5,239.7 L264.5,239.6 L267.8,236.9 L267.8,236.9 L271.1,234.2 L271.1,234.1 L274.5,231.4 L274.5,231.4 L277.9,228.7 L277.9,228.7 L281.3,226.0 L281.3,226.0 L284.8,223.3 L284.8,223.3 L288.3,220.6 L288.3,220.6 L291.7,218.0 L291.7,218.0 L295.1,215.4 L298.5,212.8 L301.8,210.3 L305.1,207.7 L305.1,207.7 L308.4,205.2 L308.4,205.2 L311.6,202.8 L311.6,202.7 L314.9,200.3 L314.9,200.3 L318.2,197.8 L318.2,197.8 L321.5,195.4 L321.5,195.4 L324.8,193.0 L324.9,193.0 L328.2,190.6 L328.2,190.6 L331.6,188.3 L331.6,188.2 L335.1,185.9 L335.1,185.9 L338.6,183.6 L338.7,183.6 L342.4,181.2 L342.4,181.2 L346.4,178.8 L346.5,178.8 L350.7,176.3 L350.7,176.3 L355.0,173.8 L355.1,173.8 L359.4,171.3 L359.5,171.3 L363.8,168.8 L363.8,168.8 L368.0,166.5 L368.0,166.5 L371.9,164.3 L371.9,164.3 L375.6,162.3 L376.1,162.1" />
<path class="ln" d="M198.0,322.0 L198.3,321.5 L198.6,320.9 L199.0,320.3 L199.4,319.5 L199.8,318.7 L200.3,317.8 L200.8,316.8 L201.4,315.9 L202.0,314.8 L202.6,313.8 L203.3,312.8 L204.0,311.7 L204.7,310.6 L205.5,309.5 L206.3,308.3 L207.2,307.1 L208.1,305.9 L209.0,304.6 L210.0,303.3 L210.9,302.0 L211.9,300.7 L212.9,299.4 L214.0,298.0 L215.0,296.7 L216.0,295.4 L217.0,294.2 L217.9,293.0 L218.8,291.9 L219.8,290.7 L220.8,289.5 L221.8,288.2 L223.0,286.8 L224.2,285.4 L225.6,283.7 L227.2,282.0 L229.0,280.0 L231.0,277.8 L233.1,275.4 L235.3,272.9 L237.7,270.2 L240.3,267.4 L242.9,264.5 L245.6,261.5 L248.4,258.5 L251.2,255.6 L254.1,252.6 L257.0,249.8 L260.0,247.0 L263.0,244.3 L266.1,241.6 L269.4,238.8 L272.7,236.1 L276.0,233.4 L279.4,230.7 L282.9,228.0 L286.3,225.3 L289.8,222.6 L293.2,220.0 L296.6,217.4 L300.0,214.8 L303.3,212.3 L306.6,209.7 L309.9,207.2 L313.1,204.7 L316.4,202.3 L319.7,199.8 L323.0,197.4 L326.3,195.0 L329.6,192.7 L333.0,190.3 L336.5,188.0 L340.0,185.7 L343.7,183.4 L347.7,180.9 L352.0,178.4 L356.3,175.9 L360.7,173.4 L365.0,171.0 L369.2,168.7 L373.1,166.5 L376.8,164.5" />
<path class="ln" d="M200.2,323.2 L200.4,322.8 L200.5,322.7 L200.8,322.1 L200.8,322.1 L201.2,321.5 L201.6,320.7 L202.0,319.9 L202.5,319.0 L203.0,318.1 L203.6,317.1 L204.2,316.1 L204.8,315.1 L205.4,314.1 L206.1,313.1 L206.8,312.0 L207.6,310.9 L208.4,309.8 L209.2,308.6 L210.1,307.3 L211.0,306.1 L212.0,304.8 L212.9,303.5 L213.9,302.2 L214.9,300.9 L215.9,299.6 L217.0,298.2 L218.0,297.0 L218.9,295.7 L219.9,294.6 L220.8,293.4 L221.7,292.3 L222.7,291.1 L223.7,289.8 L224.9,288.5 L226.1,287.0 L227.5,285.4 L229.1,283.6 L230.9,281.7 L230.9,281.7 L232.8,279.5 L232.8,279.5 L234.9,277.1 L234.9,277.1 L237.2,274.5 L239.6,271.8 L242.1,269.0 L244.7,266.2 L247.4,263.2 L250.2,260.3 L253.0,257.3 L255.9,254.4 L258.8,251.6 L261.7,248.8 L264.7,246.1 L267.8,243.4 L271.0,240.7 L274.3,238.0 L277.6,235.3 L281.0,232.6 L284.4,229.9 L287.9,227.3 L291.3,224.6 L294.7,222.0 L298.2,219.4 L301.5,216.8 L301.5,216.8 L304.8,214.2 L308.1,211.7 L311.4,209.2 L314.7,206.7 L317.9,204.3 L321.2,201.9 L324.5,199.4 L327.7,197.1 L331.1,194.7 L334.5,192.4 L337.9,190.1 L341.4,187.8 L345.0,185.5 L349.0,183.1 L353.2,180.6 L357.5,178.1 L361.9,175.6 L366.2,173.2 L370.4,170.9 L374.4,168.7 L377.5,167.0" />
<path class="ln" d="M202.3,324.5 L202.6,324.0 L202.7,323.9 L203.0,323.3 L203.0,323.3 L203.4,322.6 L203.8,321.9 L204.2,321.1 L204.7,320.2 L205.2,319.3 L205.7,318.4 L206.3,317.4 L206.9,316.4 L207.5,315.5 L208.2,314.5 L208.9,313.4 L209.6,312.3 L210.4,311.2 L211.3,310.0 L212.1,308.8 L213.0,307.6 L214.0,306.3 L214.9,305.0 L215.9,303.7 L216.9,302.4 L217.9,301.1 L218.9,299.8 L219.9,298.5 L220.9,297.3 L221.8,296.1 L222.7,295.0 L223.6,293.8 L224.6,292.7 L225.6,291.4 L226.8,290.1 L228.0,288.6 L229.4,287.1 L231.0,285.3 L232.7,283.3 L232.7,283.3 L234.7,281.2 L234.7,281.1 L236.8,278.8 L236.8,278.7 L239.1,276.2 L241.5,273.5 L244.0,270.7 L246.6,267.8 L249.3,264.9 L252.0,262.0 L254.8,259.1 L257.6,256.2 L260.5,253.4 L263.4,250.7 L266.3,248.0 L269.4,245.3 L272.6,242.7 L275.8,240.0 L279.2,237.3 L282.5,234.6 L286.0,231.9 L289.4,229.2 L292.8,226.6 L296.3,223.9 L299.7,221.3 L303.0,218.8 L303.0,218.8 L306.4,216.2 L309.6,213.7 L312.9,211.2 L316.2,208.7 L319.4,206.3 L322.7,203.9 L325.9,201.5 L329.2,199.1 L332.5,196.8 L335.9,194.4 L339.3,192.2 L342.7,189.9 L346.3,187.6 L350.3,185.2 L354.5,182.8 L358.8,180.3 L363.1,177.8 L367.4,175.4 L371.6,173.1 L375.6,170.9 L376.7,170.3" />
<path class="ln" d="M375.5,160.2 L380.5,158.5 L377.5,167.0" />
<path class="fk" d="M377.5,160 L381,158.5 L379,163 Z"/>
<path class="ln" d="M366.0,176.7 C365.1,177.7 363.0,179.2 360.9,182.7 C358.7,186.2 355.4,192.8 352.9,197.7 C350.3,202.5 347.4,207.2 345.4,211.7 C343.3,216.2 341.2,222.5 340.4,224.7" />
<path class="ln" d="M368.5,175.3 C367.6,176.7 365.4,179.9 363.2,183.8 C361.0,187.8 357.8,194.0 355.2,198.8 C352.6,203.7 349.8,208.3 347.7,212.8 C345.6,217.3 343.5,223.7 342.7,225.8" />
<path class="ln" d="M371.0,173.8 C370.1,175.7 367.8,180.6 365.5,185.0 C363.2,189.4 360.1,195.2 357.5,200.0 C354.9,204.8 352.1,209.5 350.0,214.0 C347.9,218.5 345.8,224.8 345.0,227.0" />
<path class="ln" d="M373.5,172.4 C372.6,174.7 370.1,181.4 367.8,186.2 C365.5,191.0 362.4,196.3 359.8,201.2 C357.2,206.0 354.4,210.7 352.3,215.2 C350.2,219.7 348.2,226.0 347.3,228.2" />
<path class="ln" d="M376.0,171.0 C375.0,173.7 372.5,182.1 370.1,187.3 C367.8,192.5 364.7,197.5 362.1,202.3 C359.6,207.2 356.7,211.8 354.6,216.3 C352.6,220.8 350.5,227.2 349.6,229.3" />
<path class="ln" d="M194.2,317.5 C193.8,319.1 192.7,321.9 191.8,327.3 C190.9,332.7 189.7,342.1 189.0,350.0 C188.3,357.9 187.8,366.1 187.5,375.0 C187.2,383.9 186.6,397.0 187.5,403.2 C188.4,409.4 192.1,410.5 193.0,412.0" />
<path class="ln" d="M202.5,323.3 C202.2,324.4 201.1,325.6 200.5,330.0 C199.9,334.4 199.4,342.5 199.0,350.0 C198.6,357.5 198.4,367.2 198.3,375.0 C198.2,382.8 197.2,390.9 198.3,396.7 C199.4,402.5 203.9,407.8 205.0,410.0" />
<path class="ln" d="M412.5,185.5 C407.1,188.7 392.4,197.2 380.0,204.5 C367.6,211.8 354.7,219.8 338.0,229.5 C321.3,239.2 296.3,253.2 280.0,262.7 C263.7,272.2 249.0,281.1 240.0,286.7 C231.0,292.2 228.3,294.4 226.0,296.0" />
<path class="ln" d="M415.4,189.0 C409.5,192.4 391.7,202.5 380.0,209.5 C368.3,216.5 361.7,220.6 345.0,231.0 C328.3,241.4 297.5,261.3 280.0,271.7 C262.5,282.1 250.0,286.9 240.0,293.3 C230.0,299.7 226.4,305.0 220.0,310.0 C213.6,315.0 204.4,321.1 201.3,323.3" />
<path class="ln" d="M412.5,192.3 C407.1,195.6 388.8,206.7 380.0,212.0 C371.2,217.3 366.5,219.8 360.0,224.0 C353.5,228.2 354.3,228.9 341.0,237.5 C327.7,246.1 295.7,264.9 280.0,275.3 C264.3,285.7 256.0,293.6 246.7,300.0 C237.4,306.4 231.1,309.9 224.0,314.0 C216.9,318.1 207.3,322.9 204.0,324.7" />
<path class="ln" d="M412.5,185.5 L415.5,186.5 L415.4,189.0" />
<path class="ln" d="M413.2,193.4 L411.6,194.4 L409.5,195.6 L407.0,197.1 L404.3,198.8 L401.3,200.6 L398.2,202.5 L395.0,204.5 L391.8,206.4 L388.7,208.3 L385.7,210.0 L383.0,211.7 L380.7,213.1 L380.7,213.1 L378.6,214.4 L378.6,214.4 L376.6,215.5 L376.6,215.5 L374.8,216.6 L374.8,216.6 L373.0,217.6 L373.0,217.6 L371.4,218.6 L369.8,219.5 L368.3,220.4 L366.8,221.3 L365.3,222.2 L363.8,223.1 L362.3,224.1 L360.7,225.1 L359.3,226.1 L358.0,226.9 L357.0,227.7 L356.0,228.5 L354.9,229.3 L354.9,229.3 L353.9,230.2 L353.9,230.2 L352.6,231.1 L352.6,231.1 L351.2,232.2 L351.2,232.2 L349.4,233.4 L349.4,233.5 L347.3,234.9 L347.3,234.9 L344.8,236.6 L344.8,236.6 L341.7,238.6 L341.7,238.6 L338.0,240.9 L338.0,240.9 L333.6,243.6 L333.6,243.7 L328.7,246.7 L328.7,246.7 L323.4,249.9 L323.4,249.9 L317.8,253.3 L312.1,256.8 L306.3,260.4 L300.5,263.9 L295.0,267.3 L289.7,270.6 L285.0,273.6 L280.7,276.4 L277.0,278.9 L273.5,281.4 L270.2,283.7 L267.2,285.9 L264.4,288.1 L261.8,290.2 L259.2,292.2 L256.8,294.1 L256.8,294.1 L254.4,295.9 L254.4,295.9 L252.1,297.7 L252.1,297.7 L249.8,299.4 L249.8,299.4 L247.5,301.1 L247.4,301.1 L245.2,302.6 L245.2,302.6 L243.0,304.1 L243.0,304.1 L240.9,305.4 L240.9,305.4 L238.9,306.7 L238.9,306.7 L237.0,307.9 L237.0,307.9 L235.2,309.0 L235.2,309.0 L233.4,310.1 L233.4,310.1 L231.6,311.1 L231.6,311.1 L229.9,312.1 L229.9,312.1 L228.2,313.1 L226.4,314.1 L224.6,315.1 L224.6,315.1 L222.8,316.2 L222.8,316.2 L220.9,317.2 L220.9,317.2 L219.0,318.3 L219.0,318.3 L217.0,319.4 L217.0,319.4 L215.1,320.4 L215.1,320.4 L213.2,321.4 L213.2,321.4 L211.4,322.3 L211.4,322.3 L209.7,323.2 L209.7,323.2 L208.1,324.0 L206.7,324.7 L205.6,325.3 L204.6,325.8" style="stroke:#777;stroke-width:0.6"/>
<ellipse class="ln" cx="255.7" cy="281.0" rx="4.2" ry="1.5" transform="rotate(-31 255.7 281.0)"/>
<ellipse class="ln" cx="273.3" cy="270.0" rx="4.2" ry="1.5" transform="rotate(-31 273.3 270.0)"/>
<ellipse class="ln" cx="291.0" cy="260.0" rx="4.2" ry="1.5" transform="rotate(-31 291.0 260.0)"/>
<ellipse class="ln" cx="322.0" cy="241.0" rx="4.2" ry="1.5" transform="rotate(-31 322.0 241.0)"/>
<circle class="ln" cx="245.7" cy="288.0" r="1.7"/>
<circle class="ln" cx="306.0" cy="250.5" r="1.7"/>
<path class="ln" d="M234.7,282.0 L224.0,302.0" />
<path class="ln" d="M234.7,282.0 L228.0,296.7 L210.7,310.0 L201.3,322.0" />
<path class="ln" d="M405.6,194.0 L405.0,194.6 L404.3,195.4 L403.6,196.3 L403.6,196.3 L402.7,197.3 L402.7,197.3 L401.8,198.4 L401.8,198.4 L400.9,199.5 L400.9,199.5 L399.9,200.7 L399.9,200.7 L398.9,201.9 L398.9,201.9 L397.9,203.1 L397.9,203.1 L397.0,204.3 L397.0,204.3 L396.0,205.5 L396.0,205.5 L395.1,206.6 L394.2,207.8 L393.3,209.0 L393.3,209.0 L392.3,210.2 L392.3,210.2 L391.4,211.5 L391.3,211.5 L390.4,212.7 L390.4,212.8 L389.4,214.1 L389.4,214.1 L388.4,215.4 L388.4,215.5 L387.4,216.8 L387.3,216.9 L386.3,218.3 L386.3,218.3 L385.3,219.8 L385.3,219.9 L384.2,221.4 L384.2,221.4 L383.1,223.1 L383.1,223.1 L382.0,224.9 L381.9,224.9 L380.7,226.8 L380.7,226.8 L379.5,228.8 L379.5,228.8 L378.2,230.8 L378.2,230.9 L377.0,232.9 L377.0,232.9 L375.8,234.9 L375.7,234.9 L374.6,236.9 L374.6,236.9 L373.5,238.8 L373.5,238.8 L372.4,240.6 L372.4,240.7 L371.5,242.3 L371.5,242.3 L370.7,243.8 L370.7,243.9 L370.0,245.2 L370.0,245.2 L369.5,246.4 L369.4,246.4 L369.0,247.4 L369.0,247.5 L368.6,248.4 L368.6,248.5 L368.3,249.3 L368.3,249.4 L368.1,250.1 L368.0,250.2 L367.8,250.9 L367.8,251.0 L367.6,251.7 L367.4,252.5 L367.2,253.3 L367.0,254.2 L366.6,255.2 L366.2,256.3 L365.8,257.5 L365.4,258.6 L365.0,259.8 L365.0,259.8 L364.5,261.1 L364.5,261.1 L364.1,262.4 L364.1,262.4 L363.6,263.7 L363.6,263.8 L363.1,265.2 L363.1,265.2 L362.6,266.7 L362.6,266.7 L362.1,268.3 L362.1,268.3 L361.6,270.0 L361.6,270.0 L361.1,271.8 L361.1,271.8 L360.6,273.8 L360.6,273.8 L360.0,275.8 L360.0,275.9 L359.5,278.0 L359.5,278.1 L358.9,280.3 L358.9,280.4 L358.3,282.7 L358.3,282.7 L357.7,285.1 L357.7,285.1 L357.2,287.6 L356.6,290.0 L356.0,292.5 L355.4,294.8 L354.8,297.2 L354.3,299.4 L353.7,301.6 L353.7,301.6 L353.2,303.7 L353.2,303.7 L352.7,305.8 L352.2,307.9 L351.6,310.0 L351.1,312.0 L350.6,314.1 L350.1,316.1 L349.5,318.1 L348.9,320.1 L348.3,322.2 L347.6,324.2 L346.9,326.3 L346.2,328.5 L345.5,330.6 L344.7,332.8 L344.0,335.0 L343.2,337.1 L342.4,339.2 L341.5,341.3 L340.7,343.3 L339.8,345.2 L338.8,347.0 L337.9,348.7 L336.9,350.3 L335.9,351.8 L334.8,353.2 L333.8,354.5 L332.7,355.8 L331.6,357.1 L330.4,358.3 L329.2,359.5 L327.9,360.8 L326.5,362.1 L325.0,363.4 L323.4,364.8 L321.7,366.3 L319.9,367.7 L318.0,369.3 L316.1,370.8 L314.0,372.3 L312.0,373.9 L309.8,375.4 L307.6,376.9 L305.4,378.5 L303.2,380.0 L300.9,381.4 L298.7,382.9 L296.4,384.3 L294.1,385.6 L291.7,386.9 L289.3,388.3 L286.9,389.5 L284.4,390.8 L281.9,392.1 L279.3,393.5 L279.3,393.5 L276.7,394.8 L276.7,394.8 L274.1,396.2 L274.1,396.2 L271.5,397.6 L271.4,397.6 L268.8,399.1 L268.8,399.1 L266.0,400.7 L266.0,400.7 L263.0,402.4 L263.0,402.4 L260.0,404.2 L259.9,404.2 L256.8,406.1 L256.8,406.1 L253.6,408.0 L250.5,409.9 L247.4,411.7 L244.4,413.4 L241.7,415.0 L239.1,416.5 L236.8,417.7 L234.9,418.8 L233.2,419.6 L231.9,420.3 L230.8,420.8 L229.9,421.1 L229.3,421.3 L228.9,421.4 L228.6,421.5 L228.4,421.5 L228.2,421.4 L227.8,421.4 L227.3,421.2 L227.3,421.2 L226.6,421.1 L226.0,420.9 L225.5,420.7 L225.0,420.4 L224.4,420.1 L223.8,419.7 L223.2,419.2 L222.6,418.7 L222.1,418.2 L221.5,417.6 L221.0,417.0 L220.6,416.3 L220.1,415.6 L219.7,414.9 L219.3,414.2 L218.9,413.5 L218.5,412.8 L218.2,412.1 L217.9,411.3 L217.7,410.5 L217.4,409.6 L217.2,408.6 L217.0,407.4 L216.8,406.2 L216.7,404.8 L216.6,403.2 L216.5,401.4 L216.5,399.4 L216.6,397.2 L216.6,395.0 L216.7,392.7 L216.8,390.3 L216.9,388.0 L217.0,385.8 L217.1,383.7 L217.1,383.7 L217.2,381.8 L217.2,381.8 L217.3,380.1 L217.3,380.1 L217.4,378.6 L217.4,377.2 L217.4,376.0 L217.5,374.8 L217.5,373.8 L217.6,372.8 L217.6,371.9 L217.7,371.0 L217.8,370.1 L217.8,369.2 L217.9,368.2 L218.0,367.2 L218.1,366.2 L218.1,366.2 L218.2,365.2 L218.3,364.2 L218.4,363.2 L218.4,362.2 L218.6,361.3 L218.7,360.3 L218.8,359.4 L218.9,358.4 L219.1,357.5 L219.3,356.5 L219.5,355.6 L219.8,354.6 L220.1,353.7 L220.4,352.7 L220.7,351.6 L221.1,350.6 L221.5,349.6 L221.9,348.6 L222.3,347.5 L222.7,346.5 L223.1,345.4 L223.1,345.4 L223.5,344.4 L223.5,344.4 L223.8,343.4 L223.9,343.4 L224.2,342.4 L224.2,342.3 L224.6,341.3 L224.6,341.3 L224.9,340.3 L224.9,340.3 L225.2,339.4 L225.6,338.4 L225.9,337.5 L226.2,336.6 L226.6,335.7 L226.9,334.8 L227.3,333.9 L227.7,333.1 L228.2,332.2 L228.7,331.3 L229.2,330.4 L229.7,329.6 L230.2,328.8 L230.7,328.0 L231.3,327.2 L231.9,326.3 L232.5,325.5 L233.2,324.6 L234.0,323.7 L234.8,322.7 L235.8,321.7 L236.9,320.6 L238.1,319.5 L239.3,318.3 L240.7,317.0 L242.1,315.7 L243.6,314.4 L245.1,313.1 L246.6,311.8 L248.1,310.5 L249.6,309.3 L251.1,308.1 L252.5,307.0 L253.9,305.9 L255.3,304.9 L256.8,303.9 L258.2,302.9 L259.7,301.9 L261.2,301.0 L262.6,300.1 L264.0,299.2 L265.4,298.4 L266.7,297.6 L268.0,296.9 L269.2,296.2 L270.2,295.7 L271.1,295.3 L271.9,295.0 L272.6,294.7 L273.4,294.5 L274.2,294.3 L274.2,294.3 L275.0,294.0 L275.1,294.0 L276.0,293.7 L276.1,293.7 L277.1,293.3 L277.2,293.2 L278.3,292.7 L278.4,292.7 L279.7,292.0 L279.8,292.0 L281.2,291.2 L281.3,291.1 L283.0,290.1 L283.0,290.1 L284.9,288.8 L284.9,288.8 L286.9,287.5 L287.0,287.4 L289.1,285.9 L289.1,285.9 L291.4,284.4 L291.4,284.4 L293.7,282.7 L296.0,281.1 L298.3,279.5 L300.5,278.0 L302.6,276.5 L304.5,275.2 L306.3,274.1 L307.9,273.2 L309.6,272.2 L311.2,271.4 L312.7,270.6 L314.2,269.9 L315.6,269.2 L317.0,268.6 L318.2,268.0 L319.4,267.5 L319.4,267.5 L320.4,267.0 L320.4,267.0 L321.3,266.6 L321.3,266.6 L322.1,266.3 L319.9,261.7 L319.2,262.1 L318.3,262.5 L317.3,262.9 L316.2,263.5 L316.2,263.5 L314.9,264.0 L314.9,264.0 L313.5,264.7 L313.5,264.7 L312.0,265.4 L312.0,265.4 L310.5,266.1 L310.5,266.1 L308.9,267.0 L308.8,267.0 L307.2,267.8 L307.1,267.9 L305.5,268.8 L305.4,268.8 L303.7,269.8 L303.7,269.9 L301.9,271.0 L301.8,271.1 L299.8,272.4 L299.8,272.4 L297.7,273.8 L297.7,273.8 L295.4,275.4 L295.4,275.4 L293.1,277.0 L293.1,277.0 L290.8,278.6 L288.5,280.3 L286.3,281.8 L284.1,283.3 L282.1,284.7 L280.3,285.9 L278.7,286.8 L277.4,287.6 L276.2,288.2 L275.2,288.6 L274.4,289.0 L273.6,289.2 L272.8,289.5 L272.0,289.7 L272.0,289.7 L271.2,289.9 L271.1,290.0 L270.3,290.2 L270.2,290.3 L269.2,290.6 L269.1,290.7 L268.1,291.1 L268.0,291.2 L266.8,291.8 L266.8,291.8 L265.5,292.5 L265.5,292.5 L264.2,293.3 L264.2,293.3 L262.8,294.1 L262.8,294.1 L261.4,294.9 L261.4,294.9 L260.0,295.8 L259.9,295.8 L258.5,296.8 L258.5,296.8 L257.0,297.7 L257.0,297.7 L255.5,298.7 L255.4,298.7 L254.0,299.8 L253.9,299.8 L252.5,300.8 L252.4,300.8 L251.0,301.9 L250.9,301.9 L249.5,303.0 L249.5,303.0 L248.0,304.1 L248.0,304.2 L246.5,305.4 L246.5,305.4 L245.0,306.6 L244.9,306.6 L243.4,307.9 L243.4,308.0 L241.8,309.3 L241.8,309.3 L240.3,310.6 L240.3,310.6 L238.8,312.0 L238.8,312.0 L237.3,313.3 L237.3,313.3 L235.9,314.6 L235.9,314.6 L234.6,315.9 L234.6,315.9 L233.3,317.1 L233.3,317.1 L232.2,318.2 L232.2,318.3 L231.2,319.3 L231.1,319.4 L230.2,320.4 L230.2,320.4 L229.4,321.4 L229.3,321.4 L228.6,322.4 L228.6,322.4 L227.9,323.3 L227.8,323.4 L227.2,324.3 L227.2,324.3 L226.6,325.2 L226.5,325.2 L226.0,326.1 L225.9,326.1 L225.4,327.0 L225.4,327.0 L224.9,327.9 L224.9,327.9 L224.3,328.8 L224.3,328.9 L223.8,329.8 L223.8,329.8 L223.3,330.8 L223.3,330.8 L222.8,331.8 L222.8,331.9 L222.3,332.8 L222.3,332.9 L221.9,333.8 L221.9,333.9 L221.5,334.8 L221.5,334.8 L221.2,335.8 L221.2,335.8 L220.8,336.8 L220.8,336.8 L220.5,337.8 L220.5,337.8 L220.2,338.7 L219.8,339.7 L219.5,340.7 L219.2,341.6 L218.8,342.6 L218.4,343.6 L218.0,344.7 L217.6,345.7 L217.6,345.7 L217.2,346.8 L217.2,346.8 L216.8,347.8 L216.8,347.9 L216.4,348.9 L216.4,348.9 L216.0,350.0 L216.0,350.0 L215.6,351.1 L215.6,351.1 L215.3,352.2 L215.3,352.2 L215.0,353.3 L214.9,353.3 L214.7,354.4 L214.7,354.4 L214.4,355.5 L214.4,355.5 L214.2,356.5 L214.2,356.6 L214.0,357.6 L214.0,357.6 L213.9,358.6 L213.8,358.7 L213.7,359.6 L213.7,359.7 L213.6,360.7 L213.6,360.7 L213.5,361.7 L213.5,361.7 L213.4,362.7 L213.4,362.7 L213.3,363.7 L213.3,363.7 L213.2,364.7 L213.1,365.7 L213.0,366.8 L212.9,367.8 L212.9,367.8 L212.8,368.8 L212.8,368.8 L212.8,369.7 L212.8,369.7 L212.7,370.6 L212.7,370.7 L212.6,371.6 L212.6,371.6 L212.6,372.6 L212.6,372.6 L212.5,373.6 L212.5,373.6 L212.5,374.6 L212.5,374.6 L212.4,375.8 L212.4,375.8 L212.4,377.0 L212.4,377.0 L212.4,378.4 L212.4,378.4 L212.3,379.9 L212.2,381.6 L212.1,383.5 L212.0,385.6 L211.9,387.8 L211.9,387.8 L211.8,390.1 L211.8,390.1 L211.7,392.5 L211.7,392.5 L211.6,394.8 L211.6,394.8 L211.6,397.1 L211.6,397.1 L211.5,399.3 L211.5,399.4 L211.5,401.5 L211.5,401.5 L211.6,403.4 L211.6,403.5 L211.7,405.2 L211.7,405.3 L211.9,406.7 L211.9,406.8 L212.1,408.1 L212.1,408.2 L212.3,409.5 L212.3,409.6 L212.5,410.7 L212.6,410.8 L212.8,411.8 L212.9,412.0 L213.2,412.9 L213.2,413.0 L213.6,413.9 L213.6,414.0 L214.0,414.9 L214.0,415.0 L214.4,415.8 L214.5,415.9 L214.9,416.7 L214.9,416.7 L215.4,417.5 L215.4,417.6 L215.9,418.3 L215.9,418.4 L216.4,419.2 L216.5,419.3 L217.1,420.0 L217.1,420.1 L217.7,420.8 L217.8,420.9 L218.4,421.6 L218.5,421.7 L219.2,422.3 L219.3,422.4 L220.0,423.0 L220.1,423.1 L220.8,423.7 L220.9,423.8 L221.6,424.3 L221.8,424.4 L222.5,424.8 L222.7,424.9 L223.4,425.2 L223.6,425.3 L224.3,425.6 L224.6,425.7 L225.3,425.9 L225.4,425.9 L226.1,426.1 L226.7,426.2 L226.8,426.3 L227.3,426.4 L227.5,426.4 L228.0,426.5 L228.3,426.5 L228.8,426.5 L229.2,426.4 L229.7,426.4 L230.0,426.3 L230.7,426.1 L230.9,426.1 L231.6,425.8 L231.8,425.7 L232.7,425.4 L232.8,425.3 L234.0,424.8 L234.0,424.8 L235.4,424.1 L235.4,424.1 L237.1,423.2 L237.2,423.2 L239.2,422.2 L239.2,422.1 L241.5,420.9 L241.6,420.8 L244.1,419.4 L244.2,419.4 L247.0,417.7 L247.0,417.7 L249.9,416.0 L249.9,416.0 L253.0,414.2 L253.0,414.2 L256.2,412.3 L259.4,410.4 L262.5,408.5 L265.5,406.7 L268.5,405.0 L271.2,403.5 L273.9,402.0 L276.5,400.6 L279.1,399.2 L281.6,397.9 L284.2,396.6 L286.7,395.3 L286.7,395.3 L289.2,394.0 L289.2,394.0 L291.7,392.7 L291.7,392.7 L294.1,391.3 L294.2,391.3 L296.6,390.0 L296.6,390.0 L298.9,388.6 L299.0,388.5 L301.3,387.1 L301.3,387.1 L303.6,385.6 L303.7,385.6 L305.9,384.1 L306.0,384.1 L308.2,382.6 L308.3,382.6 L310.5,381.0 L310.5,381.0 L312.7,379.5 L312.7,379.5 L314.9,377.9 L314.9,377.9 L317.0,376.3 L317.1,376.3 L319.1,374.7 L319.1,374.7 L321.1,373.2 L321.1,373.2 L323.0,371.6 L323.1,371.6 L324.9,370.1 L324.9,370.1 L326.6,368.6 L326.7,368.6 L328.3,367.2 L328.3,367.1 L329.8,365.8 L329.8,365.8 L331.3,364.5 L331.3,364.4 L332.6,363.1 L332.7,363.1 L334.0,361.8 L334.0,361.8 L335.2,360.5 L335.3,360.4 L336.5,359.1 L336.5,359.1 L337.7,357.7 L337.7,357.7 L338.8,356.3 L338.9,356.2 L339.9,354.7 L340.0,354.6 L341.0,353.1 L341.1,353.0 L342.1,351.3 L342.2,351.2 L343.2,349.4 L343.2,349.4 L344.2,347.5 L344.3,347.4 L345.2,345.4 L345.2,345.3 L346.1,343.3 L346.1,343.2 L347.0,341.1 L347.0,341.1 L347.9,338.9 L347.9,338.9 L348.7,336.7 L348.7,336.7 L349.5,334.5 L349.5,334.5 L350.2,332.3 L350.2,332.2 L351.0,330.1 L351.0,330.1 L351.7,327.9 L352.4,325.8 L352.4,325.8 L353.1,323.7 L353.1,323.7 L353.7,321.6 L353.7,321.6 L354.3,319.5 L354.3,319.5 L354.9,317.4 L354.9,317.4 L355.4,315.4 L355.4,315.3 L356.0,313.3 L356.0,313.3 L356.5,311.2 L356.5,311.2 L357.0,309.1 L357.0,309.1 L357.5,307.0 L358.0,304.9 L358.6,302.8 L359.1,300.6 L359.7,298.4 L359.7,298.4 L360.3,296.0 L360.3,296.0 L360.9,293.6 L360.9,293.6 L361.4,291.2 L361.4,291.2 L362.0,288.7 L362.6,286.3 L363.2,283.9 L363.8,281.5 L364.3,279.3 L364.9,277.1 L365.4,275.1 L365.9,273.2 L366.4,271.4 L366.9,269.8 L367.4,268.2 L367.9,266.8 L368.3,265.4 L368.8,264.0 L369.2,262.8 L369.7,261.5 L370.1,260.3 L370.5,259.2 L370.5,259.1 L371.0,258.0 L371.0,258.0 L371.4,256.8 L371.4,256.8 L371.7,255.7 L371.7,255.6 L372.0,254.7 L372.0,254.6 L372.3,253.8 L372.3,253.7 L372.5,253.0 L372.5,253.0 L372.7,252.2 L372.9,251.5 L373.1,250.9 L373.3,250.1 L373.6,249.3 L374.0,248.4 L374.5,247.4 L375.1,246.2 L375.9,244.7 L376.8,243.1 L377.8,241.3 L378.9,239.5 L380.0,237.5 L381.3,235.5 L382.5,233.5 L383.7,231.5 L385.0,229.5 L386.2,227.6 L387.3,225.8 L388.4,224.2 L389.4,222.7 L390.4,221.2 L391.4,219.8 L392.4,218.4 L393.4,217.1 L394.4,215.8 L395.3,214.5 L396.3,213.3 L397.2,212.1 L398.1,210.9 L399.1,209.7 L400.0,208.5 L400.9,207.4 L401.8,206.2 L402.8,205.0 L403.8,203.9 L404.7,202.7 L405.6,201.6 L406.5,200.6 L407.4,199.6 L408.1,198.7 L408.8,197.9 L408.8,197.9 L409.4,197.2 L409.4,197.2 L409.9,196.6 L406.1,193.4 L405.6,194.0 Z" />
<circle class="fk" cx="366.7" cy="262.5" r="0.9"/>
<circle class="fk" cx="362.4" cy="276.5" r="0.9"/>
<circle class="fk" cx="359.0" cy="290.6" r="0.9"/>
<circle class="fk" cx="355.6" cy="304.3" r="0.9"/>
<circle class="fk" cx="352.5" cy="316.8" r="0.9"/>
<circle class="fk" cx="348.6" cy="329.3" r="0.9"/>
<circle class="fk" cx="342.9" cy="344.3" r="0.9"/>
<circle class="fk" cx="336.8" cy="354.7" r="0.9"/>
<circle class="fk" cx="326.6" cy="365.3" r="0.9"/>
<circle class="fk" cx="315.5" cy="374.3" r="0.9"/>
<circle class="fk" cx="304.6" cy="382.0" r="0.9"/>
<circle class="fk" cx="292.9" cy="389.1" r="0.9"/>
<circle class="fk" cx="280.5" cy="395.7" r="0.9"/>
<circle class="fk" cx="267.2" cy="402.9" r="0.9"/>
<circle class="fk" cx="254.9" cy="410.1" r="0.9"/>
<circle class="fk" cx="242.9" cy="417.2" r="0.9"/>
<circle class="fk" cx="231.8" cy="423.0" r="0.9"/>
<circle class="fk" cx="219.7" cy="419.2" r="0.9"/>
<circle class="fk" cx="214.3" cy="406.5" r="0.9"/>
<circle class="fk" cx="214.2" cy="392.6" r="0.9"/>
<circle class="fk" cx="214.9" cy="378.5" r="0.9"/>
<circle class="fk" cx="215.8" cy="363.9" r="0.9"/>
<circle class="fk" cx="218.4" cy="350.8" r="0.9"/>
<circle class="fk" cx="223.2" cy="337.6" r="0.9"/>
<circle class="fk" cx="230.3" cy="324.8" r="0.9"/>
<path class="ln" d="M183.0,324.0 C181.4,326.7 176.0,334.0 173.3,340.0 C170.6,346.0 168.0,353.3 166.7,360.0 C165.4,366.7 165.1,373.3 165.3,380.0 C165.5,386.7 167.0,394.3 168.0,400.0 C169.0,405.7 169.9,408.8 171.3,414.0 C172.8,419.2 175.8,428.4 176.7,431.3" />
<path class="ln" d="M187.0,326.0 C185.3,329.0 179.7,337.7 177.0,344.0 C174.3,350.3 172.2,358.0 171.0,364.0 C169.8,370.0 169.8,374.0 170.0,380.0 C170.2,386.0 171.6,394.5 172.5,400.0 C173.4,405.5 174.2,408.4 175.5,413.0 C176.8,417.6 179.2,425.1 180.0,427.5" />
<path class="ln" d="M176.7,431.3 L211.3,416.2" />
<path class="ln" d="M180.0,427.5 L206.0,416.0" />
<path class="ln" d="M183.0,324.0 L192.0,321.0 L200.0,322.0 L204.0,326.7 L213.3,332.0" />
<path class="ln" d="M181.0,350.7 L188.0,356.0" />
<path class="ln" d="M178.0,364.0 L185.0,362.0 L185.5,376.0 L178.5,378.0 L178.0,364.0" />
<path class="ln" d="M192.5,370.0 L200.0,371.5 L201.5,390.0 L193.0,388.5 L192.5,370.0" />
<circle class="ln" cx="197.5" cy="382" r="1.8"/>
<path class="ln" d="M189,412 C192,409 203,412 208,416 C204,420 194,420 189,418 Z" />
<path class="ln" d="M178.0,388.0 L183.0,390.0" />
<rect class="ln" x="-3" y="-8.5" width="6" height="17" rx="3" transform="translate(209.5 356.5) rotate(28)"/>
<path class="ln" d="M319.5,264.9 L319.8,265.5 L319.8,265.5 L320.3,266.1 L320.3,266.2 L320.8,266.9 L320.8,266.9 L321.4,267.6 L322.0,268.4 L322.6,269.3 L323.2,270.2 L323.7,271.1 L324.2,272.1 L324.6,273.1 L325.0,274.2 L325.2,275.3 L325.4,276.5 L325.5,277.9 L325.5,279.4 L325.5,280.9 L325.4,282.6 L325.3,284.3 L325.1,286.0 L324.9,287.8 L324.8,289.6 L324.6,291.4 L324.4,293.1 L324.4,293.1 L324.2,294.8 L324.2,294.8 L324.1,296.5 L324.0,296.5 L323.9,298.1 L323.8,299.6 L323.6,301.1 L323.5,302.6 L323.3,304.1 L323.1,305.7 L322.8,307.3 L322.5,309.0 L322.2,310.7 L321.7,312.6 L321.3,314.6 L320.7,316.7 L320.0,319.2 L319.3,321.7 L318.5,324.4 L317.6,327.2 L316.7,330.0 L315.8,332.8 L314.9,335.4 L314.0,338.0 L313.1,340.3 L312.2,342.4 L311.4,344.2 L310.6,345.8 L310.0,347.1 L309.4,348.1 L308.8,349.0 L308.3,349.7 L307.8,350.3 L307.2,350.9 L306.6,351.5 L305.7,352.1 L304.7,352.8 L303.5,353.6 L302.1,354.5 L300.4,355.4 L298.6,356.4 L296.6,357.4 L294.5,358.4 L292.2,359.4 L289.8,360.5 L287.4,361.5 L284.8,362.6 L284.8,362.6 L282.2,363.8 L282.2,363.8 L279.6,364.9 L279.5,364.9 L276.9,366.1 L276.9,366.1 L274.2,367.4 L274.2,367.4 L271.5,368.7 L268.6,370.0 L265.6,371.5 L262.5,373.0 L262.5,373.0 L259.4,374.5 L259.4,374.5 L256.2,376.0 L256.2,376.0 L253.1,377.5 L253.1,377.5 L250.0,379.0 L250.0,379.0 L247.1,380.5 L247.1,380.5 L244.2,381.9 L244.2,381.9 L241.6,383.2 L241.6,383.2 L239.2,384.4 L239.2,384.4 L236.9,385.6 L236.9,385.6 L234.7,386.7 L234.7,386.7 L232.6,387.8 L232.6,387.8 L230.6,388.9 L230.6,388.9 L228.7,390.0 L228.7,390.0 L226.9,391.0 L226.9,391.0 L225.3,391.9 L225.3,391.9 L223.7,392.8 L223.7,392.8 L222.3,393.6 L221.1,394.3 L220.0,394.9 L219.1,395.4" />
<path class="ln" d="M322.5,263.1 L322.8,263.5 L323.2,264.0 L323.7,264.7 L324.2,265.4 L324.3,265.4 L324.9,266.3 L324.9,266.3 L325.5,267.2 L325.6,267.3 L326.2,268.2 L326.2,268.3 L326.9,269.4 L326.9,269.4 L327.5,270.5 L327.5,270.7 L328.0,271.8 L328.0,272.0 L328.4,273.2 L328.5,273.4 L328.8,274.6 L328.8,274.8 L329.0,276.1 L329.0,276.2 L329.1,277.7 L329.1,277.8 L329.1,279.3 L329.1,279.4 L329.1,281.0 L329.1,281.1 L329.0,282.8 L329.0,282.8 L328.9,284.6 L328.9,284.6 L328.7,286.4 L328.7,286.4 L328.5,288.2 L328.5,288.2 L328.3,290.0 L328.3,290.0 L328.2,291.8 L328.0,293.5 L327.8,295.2 L327.6,296.8 L327.5,298.4 L327.3,299.9 L327.3,299.9 L327.2,301.5 L327.2,301.5 L327.0,303.0 L327.0,303.0 L326.8,304.6 L326.8,304.6 L326.6,306.2 L326.6,306.2 L326.4,307.9 L326.4,307.9 L326.1,309.6 L326.1,309.7 L325.7,311.4 L325.7,311.5 L325.3,313.4 L325.2,313.4 L324.7,315.4 L324.7,315.5 L324.2,317.7 L324.1,317.7 L323.5,320.1 L323.5,320.1 L322.7,322.7 L322.7,322.8 L321.9,325.5 L321.9,325.5 L321.1,328.3 L321.0,328.3 L320.2,331.1 L320.1,331.1 L319.2,333.9 L319.2,333.9 L318.3,336.6 L318.3,336.6 L317.4,339.2 L317.3,339.2 L316.4,341.6 L316.4,341.7 L315.5,343.8 L315.5,343.9 L314.6,345.8 L314.6,345.8 L313.8,347.4 L313.8,347.4 L313.1,348.7 L313.1,348.8 L312.5,349.9 L312.5,350.0 L311.9,350.9 L311.8,351.0 L311.2,351.9 L311.1,352.0 L310.5,352.7 L310.4,352.8 L309.7,353.5 L309.6,353.6 L308.8,354.3 L308.7,354.3 L307.8,355.0 L307.8,355.0 L306.7,355.8 L306.7,355.8 L305.4,356.6 L305.4,356.6 L304.0,357.5 L303.9,357.5 L302.2,358.5 L302.2,358.6 L300.3,359.6 L300.3,359.6 L298.2,360.6 L298.2,360.6 L296.0,361.7 L296.0,361.7 L293.7,362.7 L293.7,362.7 L291.3,363.8 L291.3,363.8 L288.8,364.9 L288.8,364.9 L286.2,365.9 L283.6,367.1 L281.0,368.2 L278.4,369.4 L275.8,370.6 L273.1,371.9 L270.2,373.3 L267.2,374.7 L264.1,376.2 L260.9,377.7 L257.8,379.2 L254.7,380.8 L251.6,382.2 L248.7,383.7 L245.8,385.1 L243.2,386.4 L240.8,387.6 L238.6,388.8 L236.4,389.9 L234.3,391.0 L232.3,392.1 L230.5,393.1 L228.7,394.1 L227.0,395.1 L225.5,395.9 L224.1,396.7 L222.9,397.4 L222.9,397.4 L221.8,398.1 L221.8,398.1 L220.9,398.6" />
<path class="ln" d="M344.0,234.0 C343.9,238.3 343.8,252.3 343.5,260.0 C343.2,267.7 343.2,273.3 342.5,280.0 C341.8,286.7 340.5,293.3 339.5,300.0 C338.5,306.7 338.1,313.6 336.7,320.0 C335.3,326.4 333.6,333.4 331.3,338.7 C329.0,344.0 326.2,347.8 323.0,352.0 C319.8,356.2 313.8,362.0 312.0,364.0" />
<path class="ln" d="M338.5,270 L342,268 L343,279 L339,281 Z" />
<path class="ln" d="M338,283 L342,282 L342.5,291 L338.5,292 Z" />
<path class="ln" d="M331.5,249.0 C331.5,255.0 332.2,275.7 331.5,285.0 C330.8,294.3 328.9,297.5 327.0,305.0 C325.1,312.5 321.2,325.8 320.0,330.0" />
<path class="ln" d="M331.5,249.0 L336.0,244.0 L343.0,237.0" />
<rect class="ln" x="332.5" y="247.5" width="7" height="7" rx="2"/>
<circle class="fk" cx="336" cy="251" r="1"/>
<path class="ln" d="M219.0,374.0 L284.6,331.7" />
<path class="ln" d="M219.0,389.0 L307.0,336.0" />
<path class="ln" d="M218.7,402.7 C223.9,400.4 240.6,393.7 250.0,389.0 C259.4,384.3 265.4,380.0 275.0,374.7 C284.6,369.4 297.3,362.8 307.3,357.0 C317.3,351.2 330.4,342.8 335.0,340.0" />
<path class="ln" d="M222.0,407.0 C226.7,404.8 240.7,398.5 250.0,394.0 C259.3,389.5 268.0,385.3 278.0,380.0 C288.0,374.7 300.0,368.0 310.0,362.0 C320.0,356.0 333.3,347.0 338.0,344.0" />
<path class="lw" d="M284.6,327.5 L286.2,344.2 L302.5,337.5 L302.0,322.0" />
<path class="lw" d="M286.2,317.1 L301.7,311.7 L304.6,315.8 L288.7,321.7 L286.2,317.1" />
<path class="lw" d="M287.5,323.7 L301.0,319.6 L302.0,336.7 L290.0,340.8 L287.5,323.7" />
<path class="ln" d="M284.6,327.5 L287.5,324.5" />
<path class="ln" d="M299.5,320.5 L300.0,338.0" />
<circle class="fk" cx="295.8" cy="325.5" r="1"/>
<circle class="fk" cx="295.8" cy="333.7" r="1"/>
<path class="ln" d="M304.6,316.5 L316.0,310.0" />
<circle class="fk" cx="256.7" cy="381.7" r="0.8"/>
<circle class="fk" cx="270.0" cy="374.2" r="0.8"/>
<circle class="fk" cx="299.0" cy="355.0" r="0.8"/>
<path class="ln" d="M275.0,372.0 L280.0,378.0 L278.0,384.0" />
<circle class="ln" cx="262.5" cy="378.5" r="1.5"/>
<circle class="ln" cx="302.5" cy="351.7" r="1.6"/>
<circle class="ln" cx="277.5" cy="377.5" r="1.3"/>
<circle class="ln" cx="204.2" cy="372.5" r="2.2"/>
<circle class="ln" cx="207.0" cy="400.0" r="2.2"/>
<circle class="ln" cx="217.5" cy="338.3" r="2.0"/>
<circle class="ln" cx="204.2" cy="334.2" r="2.0"/>
<circle class="ln" cx="322.7" cy="336.0" r="2.0"/>
<circle class="ln" cx="286.0" cy="368.0" r="1.8"/>
<circle class="ln" cx="181.0" cy="337.0" r="0.8"/>
<circle class="ln" cx="184.0" cy="392.0" r="0.8"/>
<circle class="ln" cx="182.0" cy="408.0" r="0.8"/>
<circle class="ln" cx="193.0" cy="343.0" r="0.7"/>
<circle class="ln" cx="190.0" cy="372.0" r="0.7"/>
<path class="ld" d="M403.3,220.0 L381.3,232.0" />
<path class="ld" d="M369.8,238.5 L344.2,252.5" />
<path class="ld" d="M353.0,413.0 L217.5,338.3" />
<path class="ld" d="M374.0,305.0 L341.0,287.5" />
<path class="ld" d="M140.0,292.0 L190.0,321.0" />
<g id="labels">
<text transform="translate(284.2 75.0) scale(1.090 1)" style="font-size:10.00px">82150A</text>
<text transform="translate(284.2 84.0) scale(1.090 1)" style="font-size:10.00px">82160A</text>
<text transform="translate(196.3 121.0) scale(1.090 1)" style="font-size:10.00px">82850B</text>
<text transform="translate(196.3 130.0) scale(1.090 1)" style="font-size:10.00px">82860B</text>
<text transform="translate(315.5 111.6) scale(1.090 1)" style="font-size:10.00px">82250</text>
<text transform="translate(315.5 120.8) scale(1.090 1)" style="font-size:10.00px">82260</text>
<text transform="translate(388.0 170.1) scale(1.090 1)" style="font-size:10.00px">82134</text>
<text transform="translate(207.5 209.9) scale(1.090 1)" style="font-size:10.00px">82210</text>
<text transform="translate(207.5 218.9) scale(1.090 1)" style="font-size:10.00px">82220</text>
<text transform="translate(392.8 242.2) scale(1.090 1)" style="font-size:10.00px">83191</text>
<text transform="translate(380.5 264.2) scale(1.090 1)" style="font-size:10.00px">82130C</text>
<text transform="translate(380.5 273.2) scale(1.090 1)" style="font-size:10.00px">82140B</text>
<text transform="translate(438.2 266.0) scale(1.090 1)" style="font-size:10.00px">82110B</text>
<text transform="translate(438.2 275.0) scale(1.090 1)" style="font-size:10.00px">82120B</text>
<text transform="translate(138.8 320.7) scale(1.090 1)" style="font-size:10.00px">84117</text>
<text transform="translate(360.8 329.0) scale(1.090 1)" style="font-size:10.00px">82191</text>
<text transform="translate(356.3 442.0) scale(1.090 1)" style="font-size:10.00px">1249LQ</text>
<text transform="translate(346.5 461.1) scale(1.090 1)" style="font-size:10.00px">82212B</text>
<text transform="translate(380.2 140.8) scale(1.06 1)" class="b" style="font-size:10px">REF.60-760</text>
<text transform="translate(133.8 459.8) scale(0.95 1)" class="b" style="font-size:14.8px">FR.</text>
</g>
</svg>
</body></html>
